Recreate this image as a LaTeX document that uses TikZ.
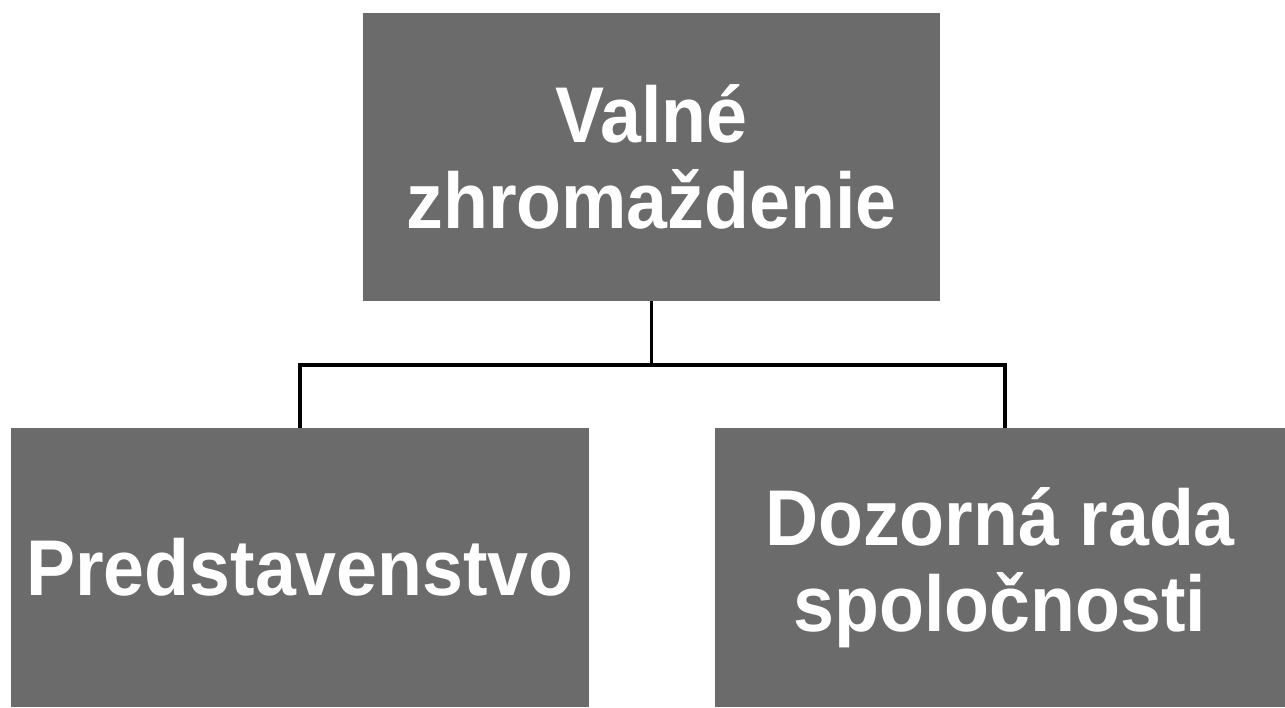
\documentclass[tikz,border=0pt]{standalone}
\usepackage{fontspec}
\setmainfont{Liberation Sans}
\newfontfamily\boxfont[FakeStretch=0.93]{Liberation Sans}
\definecolor{boxgray}{gray}{0.42}
\tikzset{
  orgbox/.style={rectangle, fill=boxgray, inner sep=0pt, align=center,
    text=white, font=\boxfont\fontsize{45}{49}\selectfont\bfseries},
  conn/.style={line width=2.2pt}
}
\begin{document}
\begin{tikzpicture}[x=0.02cm, y=-0.02cm]
  \useasboundingbox (0,0) rectangle (1285,707);
  \node[orgbox, minimum width=11.54cm, minimum height=5.76cm] (valne) at (651.5,157) {Valné\\zhromaždenie};
  \node[orgbox, minimum width=11.56cm, minimum height=5.58cm] (pred) at (300,567.5) {Predstavenstvo};
  \node[orgbox, minimum width=11.4cm, minimum height=5.58cm] (dozor) at (1000,567.5) {Dozorná rada\\spoločnosti};
  \coordinate (bus) at (651.5,365);
  \draw[conn] (valne.south) -- (bus);
  \draw[conn] (pred.north) |- (bus) -| ([xshift=0.1cm]dozor.north);
\end{tikzpicture}
\end{document}
